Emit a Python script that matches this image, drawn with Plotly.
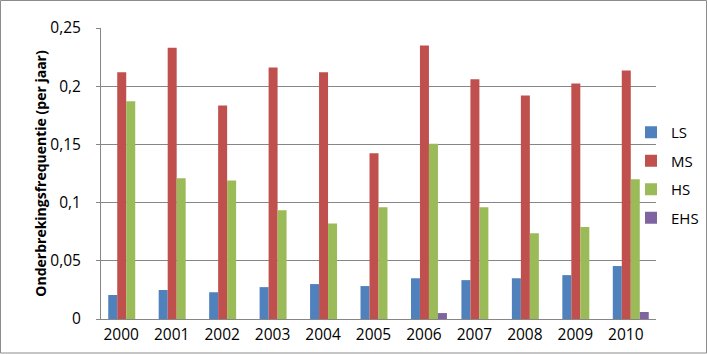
import plotly.graph_objects as go

years = ["2000", "2001", "2002", "2003", "2004", "2005", "2006", "2007", "2008", "2009", "2010"]
ls = [0.0206, 0.0249, 0.0230, 0.0274, 0.0300, 0.0283, 0.0350, 0.0334, 0.0350, 0.0377, 0.0455]
ms = [0.2120, 0.2330, 0.1835, 0.2160, 0.2120, 0.1424, 0.2350, 0.2060, 0.1920, 0.2024, 0.2135]
hs = [0.1870, 0.1210, 0.1190, 0.0935, 0.0820, 0.0960, 0.1505, 0.0960, 0.0737, 0.0790, 0.1200]
ehs = [0, 0, 0, 0, 0, 0, 0.0051, 0, 0, 0, 0.0060]
series_names = ["LS", "MS", "HS", "EHS"]
colors = ["#4F81BD", "#C0504D", "#9BBB59", "#8064A2"]
y_tickvals = [0, 0.05, 0.1, 0.15, 0.2, 0.25]
y_ticktext = ["0", "0,05", "0,1", "0,15", "0,2", "0,25"]
y_title = "Onderbrekingsfrequentie (per jaar)"

FONT = "Open Sans"
fig = go.Figure()
for name, vals, col in zip(series_names, [ls, ms, hs, ehs], colors):
    fig.add_trace(go.Bar(x=years, y=vals, name=name, marker=dict(color=col, line=dict(width=0)),
                         legendgroup=name))

L, R, T, B = 101, 52, 28, 35
W, H = 708, 354
pw, ph = W - L - R, H - T - B

def px_x(p):
    return (p - L) / pw

def px_y(p):
    return (H - B - p) / ph

fig.update_layout(
    width=W, height=H,
    margin=dict(l=L, r=R, t=T, b=B, autoexpand=False),
    paper_bgcolor="white", plot_bgcolor="white",
    barmode="group", bargap=0.287, bargroupgap=0,
    font=dict(family=FONT, size=15, color="#000000"),
    legend=dict(x=px_x(631), xanchor="left", y=px_y(116), yanchor="top",
                bgcolor="rgba(0,0,0,0)", font=dict(size=15), tracegroupgap=6,
                itemwidth=30),
    xaxis=dict(showgrid=False, showline=True, linecolor="#868686", linewidth=1,
               ticks="", tickfont=dict(size=15.5), ticklabelshift=-5, ticklabelstandoff=1),
    yaxis=dict(range=[0, 0.25], tickvals=y_tickvals, ticktext=y_ticktext,
               showgrid=True, gridcolor="#868686", gridwidth=1,
               showline=True, linecolor="#868686", linewidth=1,
               ticks="outside", ticklen=4, tickcolor="#868686", ticklabelstandoff=12,
               tickfont=dict(size=15.5), zeroline=False,
               title=dict(text="<b>" + y_title + "</b>", font=dict(size=14), standoff=0)),
    showlegend=True,
)
fig.add_shape(type="rect", xref="paper", yref="paper",
              x0=px_x(0.5), x1=px_x(706.5), y0=px_y(353), y1=px_y(0.5),
              line=dict(color="#8C8C8C", width=1), layer="below")
fig.write_html("out.html")
